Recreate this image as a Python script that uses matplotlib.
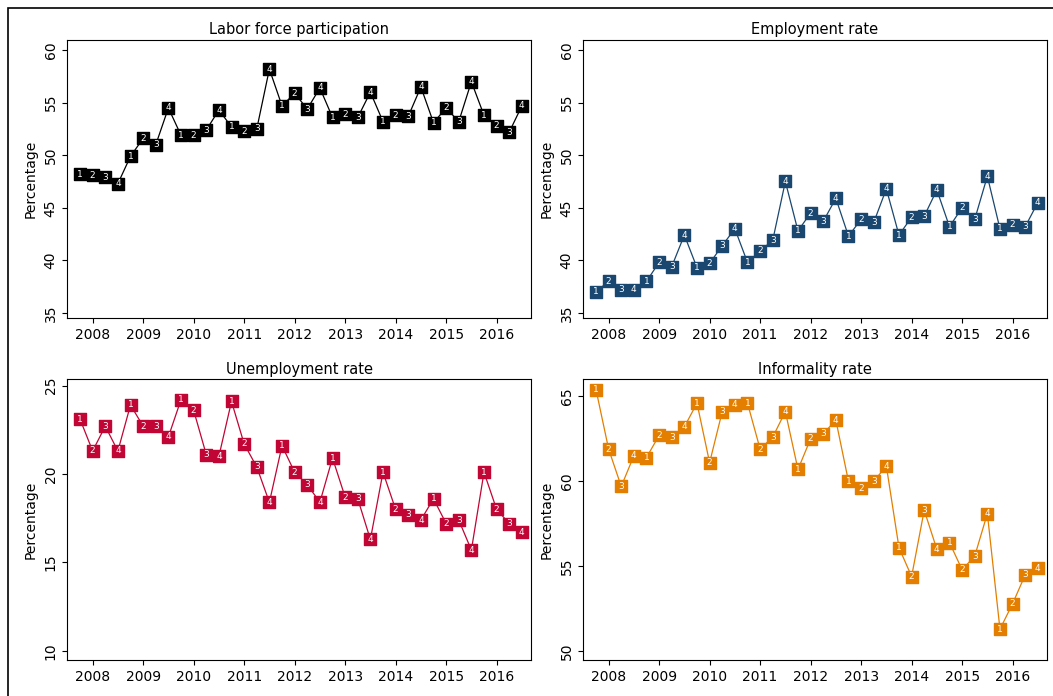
import matplotlib
matplotlib.use("Agg")
import matplotlib.pyplot as plt
from matplotlib.patches import Rectangle

years = list(range(2008, 2017))
quarters = [1, 2, 3, 4] * 9

labor = [48.2, 48.1, 47.9, 47.3, 49.9, 51.6, 51.0, 54.5, 51.9, 51.9, 52.4, 54.3,
         52.7, 52.3, 52.5, 58.2, 54.7, 55.9, 54.4, 56.4, 53.6, 53.9, 53.6, 56.0,
         53.2, 53.8, 53.7, 56.5, 53.1, 54.5, 53.2, 57.0, 53.8, 52.8, 52.2, 54.7]
employment = [37.0, 38.0, 37.2, 37.2, 38.0, 39.8, 39.4, 42.4, 39.3, 39.7, 41.4, 43.0,
              39.8, 40.9, 41.9, 47.5, 42.8, 44.5, 43.7, 45.9, 42.3, 43.9, 43.6, 46.8,
              42.4, 44.1, 44.2, 46.7, 43.2, 45.0, 43.9, 48.0, 43.0, 43.4, 43.2, 45.5]
unemployment = [23.1, 21.3, 22.7, 21.3, 23.9, 22.7, 22.7, 22.1, 24.2, 23.6, 21.1, 21.0,
                24.1, 21.7, 20.4, 18.4, 21.6, 20.1, 19.4, 18.4, 20.9, 18.7, 18.6, 16.3,
                20.1, 18.0, 17.7, 17.4, 18.6, 17.2, 17.4, 15.7, 20.1, 18.0, 17.2, 16.7]
informality = [65.4, 61.9, 59.7, 61.5, 61.4, 62.7, 62.6, 63.2, 64.6, 61.1, 64.1, 64.5,
               64.6, 61.9, 62.6, 64.1, 60.7, 62.5, 62.8, 63.6, 60.0, 59.6, 60.0, 60.9,
               56.1, 54.4, 58.3, 56.0, 56.4, 54.8, 55.6, 58.1, 51.3, 52.8, 54.5, 54.9]

panels = [
    ("Labor force participation", labor, "#000000", (34.5, 61.0), range(35, 61, 5)),
    ("Employment rate", employment, "#1a476f", (34.5, 61.0), range(35, 61, 5)),
    ("Unemployment rate", unemployment, "#c10534", (9.5, 25.35), range(10, 26, 5)),
    ("Informality rate", informality, "#e37e00", (49.5, 66.0), range(50, 66, 5)),
]

fig = plt.figure(figsize=(10.53, 6.96), dpi=100)
fig.patches.append(Rectangle((0.008, -0.01), 1.1, 0.998, transform=fig.transFigure,
                             fill=False, lw=1.2, ec="black"))
boxes = [(0.064, 0.543, 0.44, 0.40), (0.554, 0.543, 0.44, 0.40),
         (0.064, 0.052, 0.44, 0.403), (0.554, 0.052, 0.44, 0.403)]

x = list(range(len(labor)))
for (title, vals, col, ylim, yt), box in zip(panels, boxes):
    ax = fig.add_axes(box)
    ax.plot(x, vals, color=col, lw=0.9, zorder=1)
    ax.scatter(x, vals, marker="s", s=80, color=col, zorder=2)
    for xi, v, q in zip(x, vals, quarters):
        ax.text(xi, v, str(q), color="white", fontsize=6.5, ha="center",
                va="center", zorder=3)
    ax.set_xlim(-1, 35.7)
    ax.set_ylim(*ylim)
    ax.set_yticks(list(yt))
    ax.set_yticklabels([str(v) for v in yt], rotation=90, va="center")
    ax.set_xticks([1 + 4 * i for i in range(len(years))])
    ax.set_xticklabels([str(y) for y in years])
    ax.tick_params(labelsize=10)
    ax.set_ylabel("Percentage", fontsize=10)
    ax.set_title(title, fontsize=10.5, pad=4)

fig.savefig("out.png", dpi=100)
